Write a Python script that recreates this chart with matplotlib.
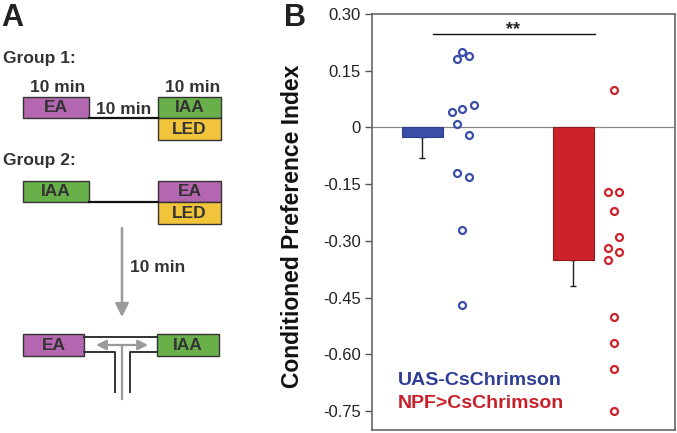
import matplotlib.pyplot as plt
import numpy as np
from matplotlib.patches import Rectangle

plt.rcParams["font.family"] = ["Liberation Sans", "DejaVu Sans"]

# panel B data
groups = ["UAS-CsChrimson", "NPF>CsChrimson"]
bar_means = [-0.025, -0.35]
bar_sems = [0.056, 0.07]
uas_vals = [0.20, 0.19, 0.18, 0.06, 0.05, 0.04, 0.01, -0.02, -0.12, -0.13, -0.27, -0.47]
npf_vals = [0.10, -0.17, -0.17, -0.22, -0.29, -0.32, -0.33, -0.35, -0.50, -0.57, -0.64, -0.75]
yticks = [0.30, 0.15, 0, -0.15, -0.30, -0.45, -0.60, -0.75]
ytick_labels = ["0.30", "0.15", "0", "-0.15", "-0.30", "-0.45", "-0.60", "-0.75"]
sig_label = "**"

# horizontal scatter of the dots next to each bar
uas_jitter = [0.265, 0.305, 0.23, 0.34, 0.265, 0.195, 0.23, 0.305, 0.23, 0.305, 0.265, 0.265]
npf_jitter = [0.265, 0.228, 0.30, 0.265, 0.30, 0.228, 0.30, 0.228, 0.265, 0.265, 0.265, 0.265]

BLUE = "#3a4ea8"
RED = "#cc2229"
PURPLE = "#b466b0"
GREEN = "#6ab04a"
YELLOW = "#f2c43c"
DARK = "#333333"
GREY = "#9a9a9a"

fig = plt.figure(figsize=(6.77, 4.33), dpi=100)

# ---- panel A: protocol schematic, drawn in pixel coords ----
sa = fig.add_axes([0, 0, 1, 1])
sa.set_xlim(0, 677)
sa.set_ylim(433, 0)
sa.axis("off")


def box(x0, y0, x1, y1, color, label):
    sa.add_patch(Rectangle((x0, y0), x1 - x0, y1 - y0, fc=color, ec=DARK, lw=1.0))
    sa.text((x0 + x1) / 2, (y0 + y1) / 2 + 0.5, label, ha="center", va="center",
            fontsize=12.5, fontweight="bold", color=DARK)


def txt(x, y, s, **kw):
    kw.setdefault("fontsize", 12.5)
    sa.text(x, y, s, fontweight="bold", color=DARK, **kw)


sa.text(1, 18, "A", fontsize=22, fontweight="bold", va="center", color="#222222")
txt(3, 59, "Group 1:", va="center")
txt(58, 87, "10 min", ha="center", va="center")
txt(124, 109, "10 min", ha="center", va="center")
txt(193, 87, "10 min", ha="center", va="center")
sa.plot([89, 158], [118, 118], color="#111111", lw=1.6)
box(23, 97, 89, 118, PURPLE, "EA")
box(158, 97, 221, 118, GREEN, "IAA")
box(158, 118, 221, 140, YELLOW, "LED")

txt(3, 161, "Group 2:", va="center")
sa.plot([89, 158], [202, 202], color="#111111", lw=1.6)
box(23, 181, 89, 202, GREEN, "IAA")
box(158, 181, 221, 202, PURPLE, "EA")
box(158, 202, 221, 224, YELLOW, "LED")

sa.annotate("", xy=(122, 317), xytext=(122, 228),
            arrowprops=dict(arrowstyle="-|>,head_length=0.8,head_width=0.4",
                            color=GREY, lw=1.8, shrinkA=0, shrinkB=0))
txt(158, 268, "10 min", ha="center", va="center")

# T-maze
sa.plot([84, 157], [337, 337], color=DARK, lw=1.4)
sa.plot([84, 115, 115], [352, 352, 392], color=DARK, lw=1.4)
sa.plot([157, 130, 130], [352, 352, 392], color=DARK, lw=1.4)
sa.plot([122, 122], [345, 399], color=GREY, lw=1.6)
sa.annotate("", xy=(96, 345), xytext=(148, 345),
            arrowprops=dict(arrowstyle="<|-|>,head_length=0.6,head_width=0.3",
                            color=GREY, lw=1.6, shrinkA=0, shrinkB=0))
box(23, 334, 84, 356, PURPLE, "EA")
box(157, 334, 219, 356, GREEN, "IAA")

sa.text(284, 18, "B", fontsize=22, fontweight="bold", va="center", color="#222222")

# ---- panel B: conditioned preference ----
ax = fig.add_axes([372 / 677, 1 - 430 / 433, 303 / 677, 416 / 433])
xpos = np.array([1, 2])
ax.bar(xpos, bar_means, width=0.27, color=[BLUE, RED], edgecolor=["#2e3e8e", "#8a1a1e"],
       lw=0.8, zorder=2)
for x, m, s in zip(xpos, bar_means, bar_sems):
    ax.errorbar(x, m, yerr=[[s], [0]], color="#222222", lw=1.0, capsize=2.5,
                capthick=1.0, zorder=1)

ax.plot(xpos[0] + np.array(uas_jitter), uas_vals, "o", ms=5, mfc="none", mec=BLUE, mew=1.6,
        zorder=3)
ax.plot(xpos[1] + np.array(npf_jitter), npf_vals, "o", ms=5, mfc="none", mec=RED, mew=1.6,
        zorder=3)

ax.axhline(0, color="#888888", lw=0.9, zorder=1)
ax.plot([1.07, 2.14], [0.247, 0.247], color="#111111", lw=1.0)
ax.text(1.6, 0.237, sig_label, ha="center", va="bottom", fontsize=13, fontweight="bold",
        color="#222222")

ax.text(0.838, -0.668, groups[0], color="#2e3e94", fontsize=14, fontweight="bold",
        va="center")
ax.text(0.838, -0.729, groups[1], color="#c8202a", fontsize=14, fontweight="bold",
        va="center")

ax.set_xlim(0.666, 2.672)
ax.set_ylim(-0.80, 0.30)
ax.set_xticks([])
ax.set_yticks(yticks)
ax.set_yticklabels(ytick_labels)
ax.tick_params(axis="y", direction="out", length=5, width=1.0, pad=3, labelsize=12,
               color="#555555", labelcolor="#222222")
for sp in ax.spines.values():
    sp.set_color("#666666")
    sp.set_linewidth(1.2)
ax.set_ylabel("Conditioned Preference Index", fontsize=16.5, fontweight="bold",
              color="#111111")
ax.yaxis.set_label_coords(-0.225, 0.49)

fig.savefig("out.png", dpi=100)
